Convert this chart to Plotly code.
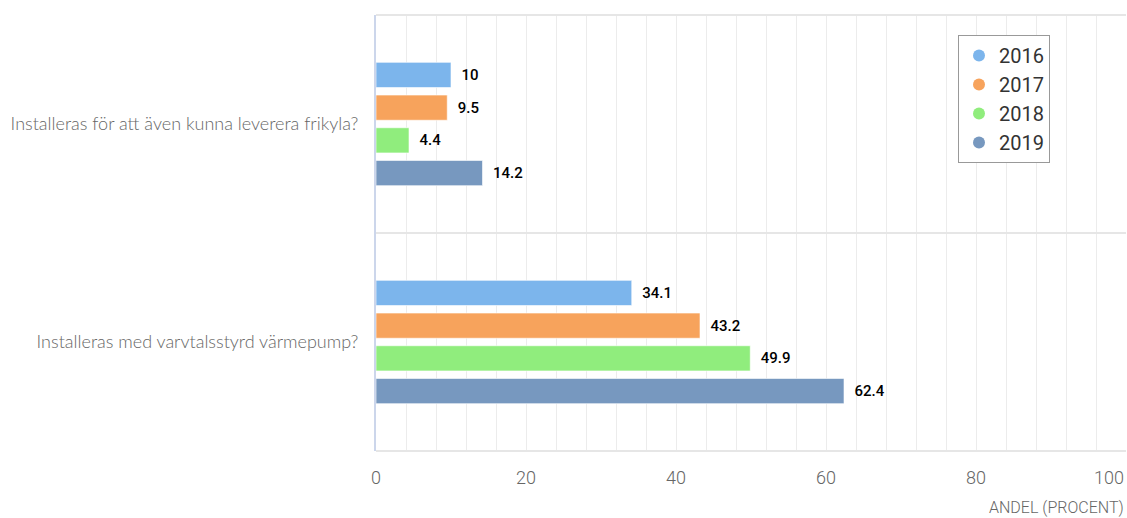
import plotly.graph_objects as go

categories = ["Installeras för att även kunna leverera frikyla?",
              "Installeras med varvtalsstyrd värmepump?"]
years = ["2016", "2017", "2018", "2019"]
values_2016 = [10, 34.1]
values_2017 = [9.5, 43.2]
values_2018 = [4.4, 49.9]
values_2019 = [14.2, 62.4]
series = [values_2016, values_2017, values_2018, values_2019]
colors = ["#7cb5ec", "#f7a35c", "#90ed7d", "#7798BF"]
x_ticks = [0, 20, 40, 60, 80]

NARROW = "Roboto, sans-serif"

fig = go.Figure()
for yr, vals, col in zip(years, series, colors):
    fig.add_trace(go.Bar(
        y=categories, x=vals, orientation="h", name=yr,
        marker=dict(color=col, line=dict(color="rgba(255,255,255,0.6)", width=1)),
        text=["\u00a0\u00a0" + (f"{v:g}") for v in vals],
        textposition="outside", cliponaxis=False,
        textfont=dict(family=NARROW, size=15, color="#000", weight=500),
        showlegend=False,
    ))
    fig.add_trace(go.Scatter(
        x=[None], y=[None], mode="markers", name=yr,
        marker=dict(color=col, size=20, symbol="circle"),
        showlegend=True,
    ))

fig.update_layout(
    width=1127, height=518,
    margin=dict(l=376, r=1, t=15, b=67),
    paper_bgcolor="white", plot_bgcolor="white",
    barmode="group", bargap=0.4, bargroupgap=0.23,
    font=dict(family="Lato, Open Sans, sans-serif", color="#666"),
    legend=dict(x=0.776, y=0.954, xanchor="left", yanchor="top",
                bgcolor="white", bordercolor="#999", borderwidth=1,
                font=dict(family=NARROW, size=20, color="#333"),
                itemsizing="constant", tracegroupgap=0),
    xaxis=dict(range=[0, 100], tickvals=x_ticks, ticktext=[str(t) for t in x_ticks],
               showgrid=True, gridcolor="#ececec", gridwidth=1,
               minor=dict(dtick=4, showgrid=True, gridcolor="#ececec", gridwidth=1),
               zeroline=False, showline=False,
               tickfont=dict(family=NARROW, size=18, color="#666", weight=300),
               ticks="", ticklabelstandoff=14),
    yaxis=dict(autorange="reversed", tickson="boundaries", showgrid=True,
               gridcolor="#e6e6e6", gridwidth=2,
               showline=True, linecolor="#ccd6eb", linewidth=2, mirror=False,
               ticks="", ticklabelstandoff=12,
               tickfont=dict(family="Lato, Open Sans, sans-serif", size=18,
                             color="#666", weight=300)),
    annotations=[
        dict(x=100, y=0, xref="x", yref="paper", text="100", showarrow=False,
             xanchor="right", yanchor="top", yshift=-14,
             font=dict(family=NARROW, size=18, color="#666", weight=300)),
        dict(x=1, y=0, xref="paper", yref="paper", text="ANDEL (PROCENT)", showarrow=False,
             xanchor="right", yanchor="top", yshift=-45,
             font=dict(family=NARROW, size=16, color="#666", weight=300)),
    ],
    shapes=[
        dict(type="line", xref="paper", yref="paper", x0=0, x1=1, y0=1, y1=1,
             line=dict(color="#e6e6e6", width=2)),
        dict(type="line", xref="paper", yref="paper", x0=0, x1=1, y0=0, y1=0,
             line=dict(color="#e6e6e6", width=2)),
    ],
)

fig.write_html("out.html")
